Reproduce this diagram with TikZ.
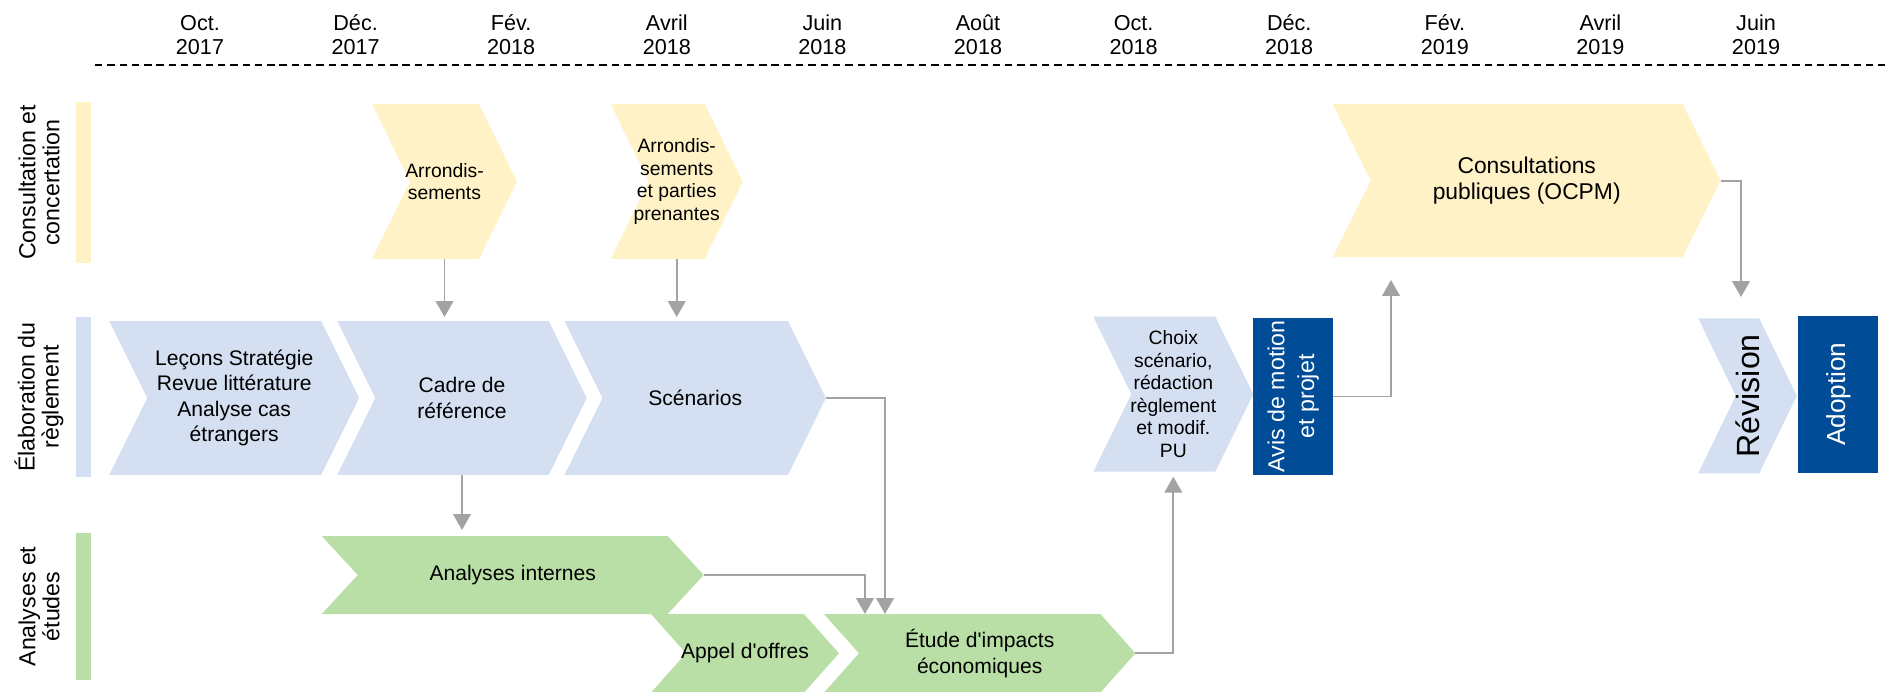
\documentclass[tikz,border=0pt]{standalone}
\usepackage{fontspec}
\setmainfont{Liberation Sans}
\usetikzlibrary{arrows.meta,positioning,calc}

\definecolor{consyellow}{HTML}{FFF2C6}
\definecolor{elabblue}{HTML}{D4DFF2}
\definecolor{anagreen}{HTML}{B9DFA7}
\definecolor{darkblue}{HTML}{004C97}
\definecolor{linkgrey}{HTML}{A3A3A3}

\tikzset{
  chev/.style 2 args={rectangle, inner sep=0pt, outer sep=0pt, align=center,
    path picture={\fill[#1] (path picture bounding box.north west)
      -- ([xshift=-#2]path picture bounding box.north east)
      -- (path picture bounding box.east)
      -- ([xshift=-#2]path picture bounding box.south east)
      -- (path picture bounding box.south west)
      -- ([xshift=#2]path picture bounding box.west) -- cycle;}},
  boxtxt/.style={font=\fontsize{12}{14.5}\selectfont},
  smalltxt/.style={font=\fontsize{11}{12.8}\selectfont},
  darkbox/.style={rectangle, fill=darkblue, text=white, inner sep=0pt, outer sep=0pt},
  lanebar/.style={rectangle, inner sep=0pt, minimum width=0.3cm},
  lanelbl/.style={rotate=90, align=center, font=\fontsize{13.2}{13.7}\selectfont},
  monthlbl/.style={align=center, font=\fontsize{12.3}{13.7}\selectfont},
  timerule/.style={line width=1.1pt, dash pattern=on 4.2pt off 2.8pt},
  link/.style={draw=linkgrey, line width=1pt},
}

\begin{document}
\begin{tikzpicture}[x=0.02cm, y=-0.02cm, >={Triangle[width=10pt,length=9pt]}]
  \useasboundingbox (0,0) rectangle (1885,691);

  % time axis
  \foreach \m [count=\i from 0] in {Oct.\\2017,Déc.\\2017,Fév.\\2018,Avril\\2018,Juin\\2018,Août\\2018,Oct.\\2018,Déc.\\2018,Fév.\\2019,Avril\\2019,Juin\\2019}
    \node[monthlbl] (month\i) at ({200+155.6*\i},34.7) {\m};
  \coordinate (rulel) at (95,65);
  \coordinate (ruler) at (1885,65);
  \draw[timerule] (rulel) -- (ruler);

  % lanes
  \node[lanebar, fill=consyellow, minimum height=3.22cm] (barcons) at (83.5,182.5) {};
  \node[lanebar, fill=elabblue, minimum height=3.2cm] (barelab) at (83.5,397) {};
  \node[lanebar, fill=anagreen, minimum height=2.94cm] (barana) at (83.5,606.5) {};
  \node[lanelbl] (lblcons) at (39,182.5) {Consultation et\\concertation};
  \node[lanelbl] (lblelab) at (39,397) {Élaboration du\\règlement};
  \node[lanelbl] (lblana) at (39,606.5) {Analyses et\\études};

  % consultation
  \node[chev={consyellow}{0.76cm}, smalltxt, minimum width=2.9cm, minimum height=3.1cm] (arr1) at (444.5,181.5) {Arrondis-\\sements};
  \node[chev={consyellow}{0.76cm}, smalltxt, minimum width=2.64cm, minimum height=3.1cm] (arr2) at (676.7,181.5) {Arrondis-\\sements\\et parties\\prenantes};
  \node[chev={consyellow}{0.76cm}, font=\fontsize{13}{15.2}\selectfont, minimum width=7.76cm, minimum height=3.06cm] (cons) at (1526.7,180.7) {Consultations\\publiques (OCPM)};

  % elaboration
  \node[chev={elabblue}{0.76cm}, boxtxt, minimum width=5cm, minimum height=3.08cm] (lecons) at (234.2,398) {Leçons Stratégie\\Revue littérature\\Analyse cas\\étrangers};
  \node[chev={elabblue}{0.76cm}, boxtxt, minimum width=4.99cm, minimum height=3.08cm] (cadre) at (462,398) {Cadre de\\référence};
  \node[chev={elabblue}{0.76cm}, boxtxt, minimum width=5.23cm, minimum height=3.08cm] (scen) at (695.2,398) {Scénarios};
  \node[chev={elabblue}{0.76cm}, smalltxt, minimum width=3.2cm, minimum height=3.1cm] (choix) at (1173.3,394.2) {Choix\\scénario,\\rédaction\\règlement\\et modif.\\PU};
  \node[darkbox, minimum width=1.6cm, minimum height=3.14cm] (avis) at (1293.3,396.4)
    {\rotatebox{90}{\fontsize{13.2}{17}\selectfont\begin{tabular}{@{}c@{}}Avis de motion\\et projet\end{tabular}}};
  \node[chev={elabblue}{0.75cm}, minimum width=1.97cm, minimum height=3.1cm] (revis) at (1747.5,395.8)
    {\rotatebox{90}{\fontsize{18.3}{20}\selectfont Révision}};
  \node[darkbox, minimum width=1.6cm, minimum height=3.14cm] (adopt) at (1838.3,394.2)
    {\rotatebox{90}{\fontsize{14.9}{17}\selectfont Adoption}};

  % analyses
  \node[chev={anagreen}{0.72cm}, boxtxt, minimum width=7.64cm, minimum height=1.56cm] (intern) at (512.7,575) {Analyses internes};
  \node[chev={anagreen}{0.7cm}, boxtxt, minimum width=3.76cm, minimum height=1.57cm] (appel) at (745,653.3) {Appel d\textquotesingle offres};
  \node[chev={anagreen}{0.7cm}, boxtxt, minimum width=6.23cm, minimum height=1.57cm] (etude) at (979.7,653.3) {Étude d\textquotesingle impacts\\économiques};

  % links
  \coordinate (etudeA) at (865,614);
  \coordinate (etudeB) at (885,614);
  \coordinate (consin) at (1391,280);
  \coordinate (revin) at (1741,297);
  \draw[link,->,shorten >=0.08cm] (arr1.south) -- (arr1.south |- cadre.north);
  \draw[link,->,shorten >=0.08cm] (arr2.south) -- (arr2.south |- scen.north);
  \draw[link,->,shorten >=0.12cm] (cadre.south) -- (cadre.south |- intern.north);
  \draw[link,->] (intern.east) -| (etudeA);
  \draw[link,->] (scen.east) -| (etudeB);
  \draw[link,->,shorten >=0.1cm] (etude.east) -| (choix.south);
  \draw[link,->] (avis.east) -| (consin);
  \draw[link,->] (cons.east) -| (revin);
\end{tikzpicture}
\end{document}
